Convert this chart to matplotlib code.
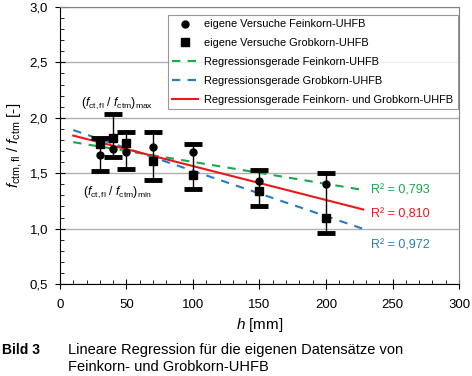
import numpy as np
import matplotlib
matplotlib.use('Agg')
import matplotlib.pyplot as plt
from matplotlib.ticker import MultipleLocator, FuncFormatter

plt.rcParams['font.family'] = ['Liberation Sans', 'DejaVu Sans']
plt.rcParams['mathtext.fontset'] = 'custom'
plt.rcParams['mathtext.rm'] = 'Liberation Sans'
plt.rcParams['mathtext.it'] = 'Liberation Sans:italic'

# Versuchsdaten
h_mm = [30, 40, 50, 70, 100, 150, 200]
fein = [1.66, 1.72, 1.69, 1.74, 1.69, 1.43, 1.40]
grob = [1.76, 1.82, 1.77, 1.61, 1.48, 1.34, 1.095]
err_max = [1.82, 2.03, 1.87, 1.87, 1.76, 1.53, 1.50]
err_min = [1.52, 1.65, 1.54, 1.44, 1.36, 1.20, 0.96]

# Regressionsgeraden (Achsenabschnitt, Steigung) und Bereich
reg_h = [10, 228]
reg_fein = (1.80, -0.00198)
reg_grob = (1.93, -0.00409)
reg_alle = (1.87, -0.00306)
r2_labels = ['R² = 0,793', 'R² = 0,810', 'R² = 0,972']

green = '#1aa84b'
blue = '#2a7ac0'
red = '#e8191c'

fig = plt.figure(figsize=(4.72, 3.76), dpi=100)
ax = fig.add_axes([0.127, 0.2447, 0.8455, 0.7367])

# Fehlerbalken
h = np.array(h_mm)
lo = np.array(err_min)
hi = np.array(err_max)
ax.vlines(h, lo, hi, color='black', lw=1.0, zorder=3)
ax.plot(h, lo, ls='none', marker='_', ms=13, mew=3.5, color='black', zorder=3)
ax.plot(h, hi, ls='none', marker='_', ms=13, mew=3.5, color='black', zorder=3)

# Punkte
ax.plot(h_mm, fein, 'o', color='black', ms=5, zorder=4, label='eigene Versuche Feinkorn-UHFB')
ax.plot(h_mm, grob, 's', color='black', ms=5.5, zorder=4, label='eigene Versuche Grobkorn-UHFB')

xr = np.array(reg_h)
ax.plot(xr, reg_fein[0] + reg_fein[1] * xr, '--', color=green, lw=1.5, dashes=(4, 3.5),
        label='Regressionsgerade Feinkorn-UHFB')
ax.plot(xr, reg_grob[0] + reg_grob[1] * xr, '--', color=blue, lw=1.5, dashes=(4, 3.5),
        label='Regressionsgerade Grobkorn-UHFB')
ax.plot(xr, reg_alle[0] + reg_alle[1] * xr, '-', color=red, lw=1.5,
        label='Regressionsgerade Feinkorn- und Grobkorn-UHFB')

ax.text(234, 1.34, r2_labels[0], color=green, fontsize=9, va='center')
ax.text(234, 1.125, r2_labels[1], color=red, fontsize=9, va='center')
ax.text(234, 0.85, r2_labels[2], color=blue, fontsize=9, va='center')

ax.text(43, 2.13, r'$(f_{\mathrm{ct,fl}}\ /\ f_{\mathrm{ctm}})_{\mathrm{max}}$', fontsize=8.7,
        ha='center', va='center')
ax.text(43, 1.33, r'$(f_{\mathrm{ct,fl}}\ /\ f_{\mathrm{ctm}})_{\mathrm{min}}$', fontsize=8.7,
        ha='center', va='center')

ax.set_xlim(0, 300)
ax.set_ylim(0.5, 3.0)
ax.xaxis.set_major_locator(MultipleLocator(50))
ax.xaxis.set_minor_locator(MultipleLocator(10))
ax.yaxis.set_major_locator(MultipleLocator(0.5))
ax.yaxis.set_minor_locator(MultipleLocator(0.1))
ax.yaxis.set_major_formatter(FuncFormatter(lambda v, p: '{:.1f}'.format(v).replace('.', ',')))
ax.tick_params(which='major', direction='inout', length=7, width=0.8, labelsize=9.5)
ax.tick_params(axis='x', which='major', pad=7)
ax.tick_params(axis='y', which='major', pad=5)
ax.tick_params(which='minor', direction='in', length=3, width=0.6)
ax.grid(axis='y', which='major', color='#b0b0b0', lw=1.0)
ax.set_axisbelow(True)
for s in ['top', 'right']:
    ax.spines[s].set_color('#808080')

ax.set_xlabel(r'$h$ [mm]', fontsize=11, labelpad=4)
ax.set_ylabel(r'$f_{\mathrm{ctm,fl}}\ /\ f_{\mathrm{ctm}}$ [-]', fontsize=11, labelpad=4)

leg = ax.legend(loc='upper right', bbox_to_anchor=(0.997, 0.971), borderaxespad=0,
                fontsize=7.9, frameon=True, fancybox=False, edgecolor='#808080',
                handlelength=2.3, handletextpad=0.6, labelspacing=0.8)
leg.get_frame().set_linewidth(0.8)

fig.text(0.004, 0.07, 'Bild 3', fontsize=10, fontweight='bold', va='center')
fig.text(0.144, 0.07, 'Lineare Regression für die eigenen Datensätze von', fontsize=10.5, va='center')
fig.text(0.144, 0.025, 'Feinkorn- und Grobkorn-UHFB', fontsize=10.5, va='center')

fig.savefig('out.png', dpi=100)
